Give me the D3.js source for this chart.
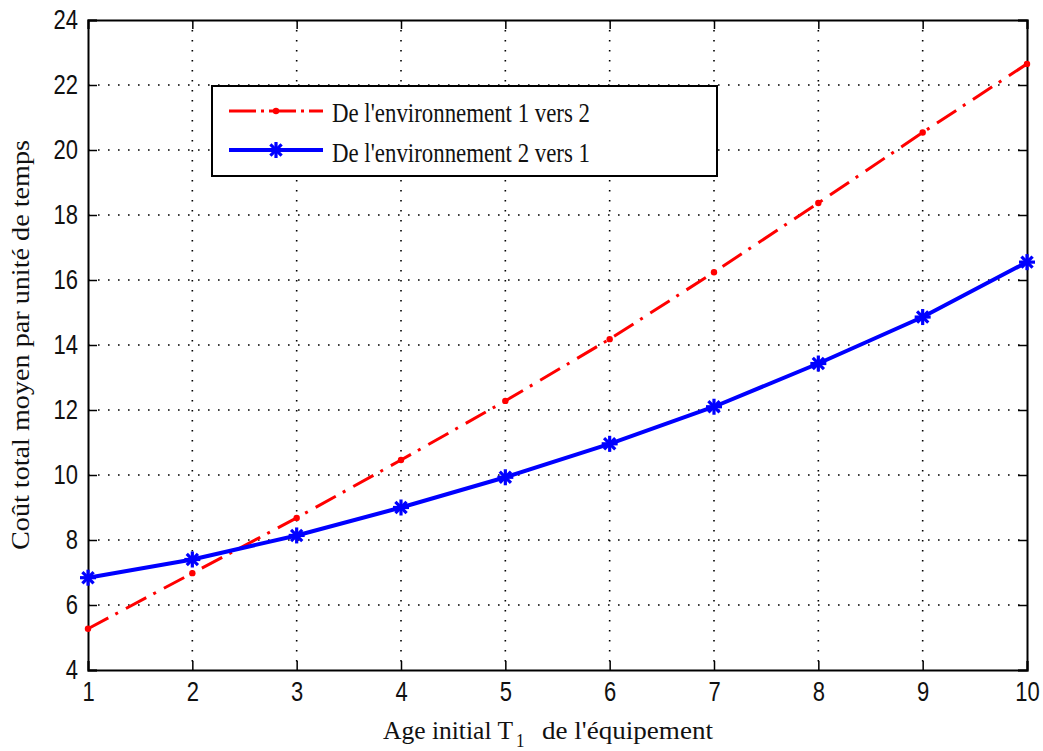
<!DOCTYPE html>
<html><head><meta charset="utf-8">
<script src="https://cdn.jsdelivr.net/npm/d3@7"></script>
<style>
body{margin:0;background:#fff}svg{display:block}
.tk text{transform-box:fill-box;transform-origin:center;transform:scaleY(1.22)}
</style>
</head><body>
<svg id="c" width="1043" height="751"></svg>
<script>
const xValues = [1,2,3,4,5,6,7,8,9,10];
const series1 = [5.27, 6.98, 8.68, 10.46, 12.28, 14.18, 16.24, 18.37, 20.54, 22.65];
const series2 = [6.84, 7.40, 8.14, 9.00, 9.93, 10.96, 12.10, 13.43, 14.86, 16.55];
const seriesNames = ["De l'environnement 1 vers 2", "De l'environnement 2 vers 1"];
const xTicks = [1,2,3,4,5,6,7,8,9,10];
const yTicks = [4,6,8,10,12,14,16,18,20,22,24];

const svg = d3.select("#c");
const L=88, R=1027, T=20, B=670;
const x = d3.scaleLinear().domain([1,10]).range([L,R]);
const y = d3.scaleLinear().domain([4,24]).range([B,T]);

// grid
const g = svg.append("g");
g.selectAll(".vg").data(xTicks.slice(1,-1)).enter().append("line")
 .attr("x1",d=>x(d)).attr("x2",d=>x(d)).attr("y1",T).attr("y2",B)
 .attr("stroke","#000").attr("stroke-width",1.6).attr("stroke-dasharray","1.6,8.4");
g.selectAll(".hg").data(yTicks.slice(1,-1)).enter().append("line")
 .attr("y1",d=>y(d)).attr("y2",d=>y(d)).attr("x1",L).attr("x2",R)
 .attr("stroke","#000").attr("stroke-width",1.6).attr("stroke-dasharray","1.6,8.4");

// axes
const ff = "'Liberation Sans', Arial, sans-serif";
const xb = svg.append("g").attr("class","tk").attr("transform",`translate(0,${B})`)
 .call(d3.axisBottom(x).tickValues(xTicks).tickSize(-9).tickPadding(14).tickFormat(d3.format("d")));
const xt = svg.append("g").attr("transform",`translate(0,${T})`)
 .call(d3.axisTop(x).tickValues(xTicks).tickSize(-9).tickFormat(""));
const yl = svg.append("g").attr("class","tk").attr("transform",`translate(${L},0)`)
 .call(d3.axisLeft(y).tickValues(yTicks).tickSize(-9).tickPadding(10).tickFormat(d3.format("d")));
const yr = svg.append("g").attr("transform",`translate(${R},0)`)
 .call(d3.axisRight(y).tickValues(yTicks).tickSize(-9).tickFormat(""));
[xb,xt,yl,yr].forEach(a=>{
  a.select(".domain").attr("stroke","#000").attr("stroke-width",2);
  a.selectAll(".tick line").attr("stroke","#000").attr("stroke-width",1.5);
  a.selectAll("text").attr("font-family",ff).attr("font-size",22).attr("fill","#111");
});

// lines
const line = d3.line().x((d,i)=>x(xValues[i])).y(d=>y(d));
svg.append("path").datum(series1).attr("d",line).attr("fill","none")
 .attr("stroke","#ff0000").attr("stroke-width",3).attr("stroke-dasharray","23,8,3,9");
svg.append("path").datum(series2).attr("d",line).attr("fill","none")
 .attr("stroke","#0000ff").attr("stroke-width",4);

svg.selectAll(".rd").data(series1).enter().append("circle")
 .attr("cx",(d,i)=>x(xValues[i])).attr("cy",d=>y(d)).attr("r",3.2).attr("fill","#ff0000");

const star = (sel, cx, cy) => {
  const r=8;
  const s = sel.append("g").attr("transform",`translate(${cx},${cy})`)
   .attr("stroke","#0000ff").attr("stroke-width",3.2);
  s.append("line").attr("x1",-r).attr("x2",r).attr("y1",0).attr("y2",0);
  s.append("line").attr("x1",0).attr("x2",0).attr("y1",-r).attr("y2",r);
  s.append("line").attr("x1",-r*0.7).attr("x2",r*0.7).attr("y1",-r*0.7).attr("y2",r*0.7);
  s.append("line").attr("x1",-r*0.7).attr("x2",r*0.7).attr("y1",r*0.7).attr("y2",-r*0.7);
};
series2.forEach((d,i)=>star(svg, x(xValues[i]), y(d)));

// legend
const sf = "'Liberation Serif', 'Times New Roman', serif";
const lg = svg.append("g");
lg.append("rect").attr("x",212).attr("y",86).attr("width",505).attr("height",90)
 .attr("fill","#fff").attr("stroke","#000").attr("stroke-width",2);
lg.append("line").attr("x1",229).attr("x2",323).attr("y1",111).attr("y2",111)
 .attr("stroke","#ff0000").attr("stroke-width",3).attr("stroke-dasharray","27,5,3,5");
lg.append("circle").attr("cx",276).attr("cy",111).attr("r",3.2).attr("fill","#ff0000");
lg.append("line").attr("x1",229).attr("x2",323).attr("y1",150).attr("y2",150)
 .attr("stroke","#0000ff").attr("stroke-width",4);
star(lg,276,150);
seriesNames.forEach((d,i)=>{
  lg.append("text").attr("transform",`translate(332,${122+i*40}) scale(1,1.25)`)
   .attr("font-family",sf).attr("font-size",22).attr("fill","#111")
   .attr("textLength",258).attr("lengthAdjust","spacingAndGlyphs").text(d);
});

// axis labels
const xl = svg.append("g").attr("font-family",sf).attr("fill","#111");
xl.append("text").attr("transform","translate(383,739) scale(1,1.15)").attr("font-size",21)
 .attr("textLength",130).attr("lengthAdjust","spacingAndGlyphs").text("Age initial T");
xl.append("text").attr("transform","translate(516,747) scale(1,1.15)").attr("font-size",17).text("1");
xl.append("text").attr("transform","translate(542,739) scale(1,1.15)").attr("font-size",21)
 .attr("textLength",171).attr("lengthAdjust","spacingAndGlyphs").text("de l'équipement");

svg.append("text").attr("transform","translate(29,550) rotate(-90) scale(1,1.15)")
 .attr("font-family",sf).attr("font-size",21).attr("fill","#111")
 .attr("textLength",410).attr("lengthAdjust","spacingAndGlyphs")
 .text("Coût total moyen par unité de temps");
</script>
</body></html>
